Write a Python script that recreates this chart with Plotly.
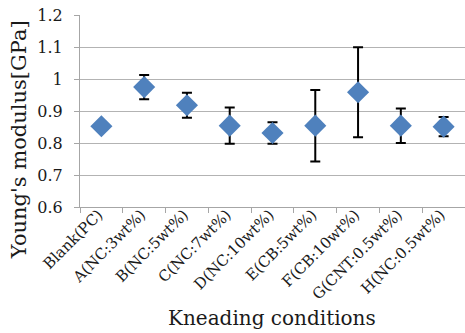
import plotly.graph_objects as go

categories = ["Blank(PC)", "A(NC:3wt%)", "B(NC:5wt%)", "C(NC:7wt%)", "D(NC:10wt%)",
              "E(CB:5wt%)", "F(CB:10wt%)", "G(CNT:0.5wt%)", "H(NC:0.5wt%)"]
modulus = [0.853, 0.976, 0.919, 0.855, 0.832, 0.855, 0.960, 0.855, 0.852]
err = [0.006, 0.038, 0.039, 0.057, 0.034, 0.112, 0.141, 0.054, 0.030]
y_ticks = [0.6, 0.7, 0.8, 0.9, 1.0, 1.1, 1.2]
y_tick_text = ["0.6", "0.7", "0.8", "0.9", "1", "1.1", "1.2"]

font_family = "DejaVu Serif"
txt = "#1a1a1a"
grid_color = "#b3b3b3"

fig = go.Figure()
fig.add_trace(go.Scatter(
    x=categories, y=modulus, mode="markers",
    marker=dict(symbol="diamond", size=17, color="#4F81BD"),
    error_y=dict(type="data", array=err, visible=True, color="black",
                 thickness=2, width=5),
    showlegend=False,
))

fig.update_layout(
    width=465, height=333,
    margin=dict(l=80, r=0, t=15, b=126, autoexpand=False),
    paper_bgcolor="white", plot_bgcolor="white",
    font=dict(family=font_family, color=txt),
    xaxis=dict(
        type="category", tickangle=-45, tickson="boundaries",
        ticks="outside", ticklen=5, tickcolor="#a6a6a6",
        showline=True, linecolor="#a6a6a6", linewidth=1,
        showgrid=False, tickfont=dict(size=15, family=font_family, color=txt),
        ticklabelstandoff=-8, ticklabelshift=-3, automargin=False,
        range=[-0.5, 8.5],
    ),
    yaxis=dict(
        # tiny headroom so the top grid line is not clipped at the plot edge
        range=[y_ticks[0], y_ticks[-1] + 0.002], tickvals=y_ticks, ticktext=y_tick_text,
        ticks="outside", ticklen=5, tickcolor="#a6a6a6",
        showline=True, linecolor="#a6a6a6", linewidth=1,
        showgrid=True, gridcolor=grid_color, gridwidth=1,
        zeroline=False, ticklabelstandoff=8, automargin=False,
        tickfont=dict(size=16, family=font_family, color=txt),
    ),
    annotations=[
        dict(text="Young's modulus[GPa]", textangle=-90,
             xref="paper", yref="paper", x=-0.158, y=0.349,
             xanchor="center", yanchor="middle", showarrow=False,
             font=dict(size=21, family=font_family, color=txt)),
        dict(text="Kneading conditions",
             xref="paper", yref="paper", x=0.499, y=-0.578,
             xanchor="center", yanchor="middle", showarrow=False,
             font=dict(size=20, family=font_family, color=txt)),
    ],
)

fig.write_html("out.html", post_script="document.body.style.margin='0';",
               config={"displayModeBar": False})
